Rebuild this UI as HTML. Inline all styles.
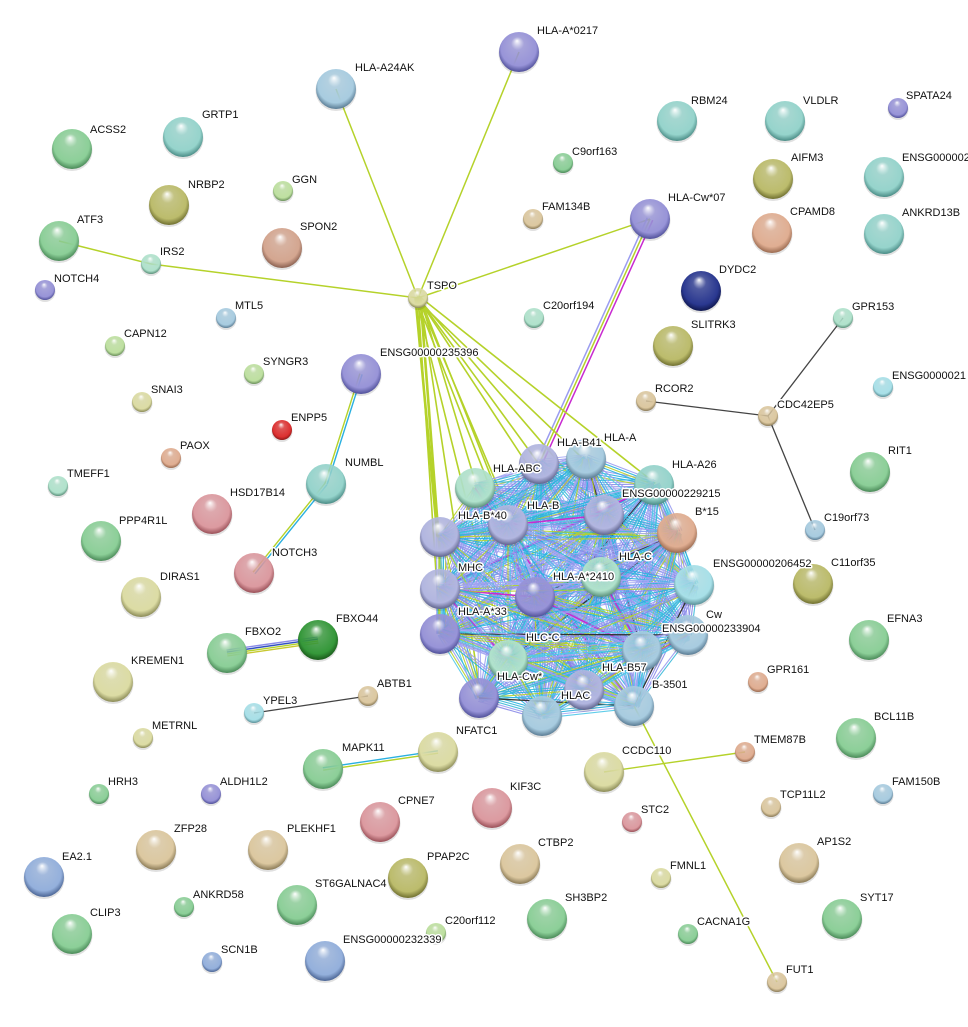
<!DOCTYPE html>
<html><head><meta charset="utf-8"><style>
html,body{margin:0;padding:0;background:#fff;width:968px;height:1027px;overflow:hidden}
svg{display:block}
text{font-family:"Liberation Sans",Arial,sans-serif;font-size:11px;fill:#111;stroke:#fff;stroke-width:3px;paint-order:stroke;stroke-linejoin:round}
</style></head><body>
<svg id="s" width="968" height="1027" viewBox="0 0 968 1027" xmlns="http://www.w3.org/2000/svg">
<defs id="d"></defs>
<g id="edges"></g>
<g id="nodes"></g>
<g id="labels">
<text x="537" y="34">HLA-A*0217</text>
<text x="355" y="71">HLA-A24AK</text>
<text x="90" y="133">ACSS2</text>
<text x="202" y="118">GRTP1</text>
<text x="188" y="188">NRBP2</text>
<text x="292" y="183">GGN</text>
<text x="300" y="230">SPON2</text>
<text x="77" y="223">ATF3</text>
<text x="160" y="255">IRS2</text>
<text x="54" y="282">NOTCH4</text>
<text x="235" y="309">MTL5</text>
<text x="124" y="337">CAPN12</text>
<text x="263" y="365">SYNGR3</text>
<text x="151" y="393">SNAI3</text>
<text x="291" y="421">ENPP5</text>
<text x="180" y="449">PAOX</text>
<text x="67" y="477">TMEFF1</text>
<text x="427" y="289">TSPO</text>
<text x="380" y="356">ENSG00000235396</text>
<text x="345" y="466">NUMBL</text>
<text x="230" y="496">HSD17B14</text>
<text x="119" y="524">PPP4R1L</text>
<text x="272" y="556">NOTCH3</text>
<text x="160" y="580">DIRAS1</text>
<text x="245" y="635">FBXO2</text>
<text x="336" y="622">FBXO44</text>
<text x="131" y="664">KREMEN1</text>
<text x="263" y="704">YPEL3</text>
<text x="377" y="687">ABTB1</text>
<text x="152" y="729">METRNL</text>
<text x="342" y="751">MAPK11</text>
<text x="456" y="734">NFATC1</text>
<text x="108" y="785">HRH3</text>
<text x="220" y="785">ALDH1L2</text>
<text x="398" y="804">CPNE7</text>
<text x="510" y="790">KIF3C</text>
<text x="174" y="832">ZFP28</text>
<text x="287" y="832">PLEKHF1</text>
<text x="427" y="860">PPAP2C</text>
<text x="538" y="846">CTBP2</text>
<text x="62" y="860">EA2.1</text>
<text x="193" y="898">ANKRD58</text>
<text x="315" y="887">ST6GALNAC4</text>
<text x="445" y="924">C20orf112</text>
<text x="565" y="901">SH3BP2</text>
<text x="90" y="916">CLIP3</text>
<text x="221" y="953">SCN1B</text>
<text x="343" y="943">ENSG00000232339</text>
<text x="572" y="155">C9orf163</text>
<text x="542" y="210">FAM134B</text>
<text x="668" y="201">HLA-Cw*07</text>
<text x="543" y="309">C20orf194</text>
<text x="691" y="104">RBM24</text>
<text x="803" y="104">VLDLR</text>
<text x="906" y="99">SPATA24</text>
<text x="791" y="161">AIFM3</text>
<text x="902" y="161">ENSG000002</text>
<text x="790" y="215">CPAMD8</text>
<text x="902" y="216">ANKRD13B</text>
<text x="719" y="273">DYDC2</text>
<text x="691" y="328">SLITRK3</text>
<text x="852" y="310">GPR153</text>
<text x="892" y="379">ENSG0000021</text>
<text x="655" y="392">RCOR2</text>
<text x="777" y="408">CDC42EP5</text>
<text x="888" y="454">RIT1</text>
<text x="824" y="521">C19orf73</text>
<text x="831" y="566">C11orf35</text>
<text x="887" y="622">EFNA3</text>
<text x="767" y="673">GPR161</text>
<text x="874" y="720">BCL11B</text>
<text x="754" y="743">TMEM87B</text>
<text x="622" y="754">CCDC110</text>
<text x="780" y="798">TCP11L2</text>
<text x="892" y="785">FAM150B</text>
<text x="641" y="813">STC2</text>
<text x="817" y="845">AP1S2</text>
<text x="670" y="869">FMNL1</text>
<text x="860" y="901">SYT17</text>
<text x="697" y="925">CACNA1G</text>
<text x="786" y="973">FUT1</text>
<text x="493" y="472">HLA-ABC</text>
<text x="557" y="446">HLA-B41</text>
<text x="604" y="441">HLA-A</text>
<text x="672" y="468">HLA-A26</text>
<text x="622" y="497">ENSG00000229215</text>
<text x="695" y="515">B*15</text>
<text x="458" y="519">HLA-B*40</text>
<text x="527" y="509">HLA-B</text>
<text x="619" y="560">HLA-C</text>
<text x="553" y="580">HLA-A*2410</text>
<text x="458" y="571">MHC</text>
<text x="713" y="567">ENSG00000206452</text>
<text x="458" y="615">HLA-A*33</text>
<text x="706" y="618">Cw</text>
<text x="662" y="632">ENSG00000233904</text>
<text x="526" y="641">HLC-C</text>
<text x="497" y="680">HLA-Cw*</text>
<text x="602" y="671">HLA-B57</text>
<text x="561" y="699">HLAC</text>
<text x="652" y="688">B-3501</text>
</g>
</svg>
<script>
var C={green:"#8ccf98",teal:"#96d4cc",purple:"#9894d8",lblue:"#a8cce0",salmon:"#e0ae92",tan:"#dcc8a0",khaki:"#dcdca4",rose:"#dc9aa0",olive:"#bcbc6c",navy:"#2a3890",dgreen:"#35983a",red:"#dd3030",lgreen:"#bee0a0",cyan:"#a8e0e8",blue:"#94b0dc",brown:"#d4a690",lav:"#b2b6e0",mint:"#b0e2cc"};
var D={green:"#4a8a58",teal:"#4a8c86",purple:"#50509a",lblue:"#5a7c94",salmon:"#9a6a50",tan:"#8a7a56",khaki:"#8a8a56",rose:"#9a5058",olive:"#707030",navy:"#101850",dgreen:"#1a5a1a",red:"#901818",lgreen:"#6a905a",cyan:"#5a9098",blue:"#4a6494",brown:"#8a6050",lav:"#60648e",mint:"#5a907a"};
var d=document.getElementById("d"),h="";
for(var k in C){h+='<radialGradient id="g'+k+'" cx="50%" cy="45%" r="55%" fx="45%" fy="22%"><stop offset="0" stop-color="#fff"/><stop offset="0.3" stop-color="'+C[k]+'" stop-opacity="0.8"/><stop offset="0.8" stop-color="'+C[k]+'"/><stop offset="1" stop-color="'+D[k]+'"/></radialGradient>';}
d.innerHTML=h;
var N={
"A0217":[519,52,20,"purple"],"A24AK":[336,89,20,"lblue"],"ACSS2":[72,149,20,"green"],"GRTP1":[183,137,20,"teal"],"NRBP2":[169,205,20,"olive"],
"RBM24":[677,121,20,"teal"],"VLDLR":[785,121,20,"teal"],"AIFM3":[773,179,20,"olive"],"ENSG2":[884,177,20,"teal"],"ATF3":[59,241,20,"green"],
"SPON2":[282,248,20,"brown"],"Cw07":[650,219,20,"purple"],"CPAMD8":[772,233,20,"salmon"],"ANKRD13B":[884,234,20,"teal"],"DYDC2":[701,291,20,"navy"],
"SLITRK3":[673,346,20,"olive"],"E235396":[361,374,20,"purple"],"NUMBL":[326,484,20,"teal"],"HSD17B14":[212,514,20,"rose"],"PPP4R1L":[101,541,20,"green"],
"NOTCH3":[254,573,20,"rose"],"DIRAS1":[141,597,20,"khaki"],"FBXO2":[227,653,20,"green"],"FBXO44":[318,640,20,"dgreen"],"KREMEN1":[113,682,20,"khaki"],
"RIT1":[870,472,20,"green"],"C11orf35":[813,584,20,"olive"],"EFNA3":[869,640,20,"green"],"BCL11B":[856,738,20,"green"],"CCDC110":[604,772,20,"khaki"],
"NFATC1":[438,752,20,"khaki"],"MAPK11":[323,769,20,"green"],"CPNE7":[380,822,20,"rose"],"KIF3C":[492,808,20,"rose"],"ZFP28":[156,850,20,"tan"],
"PLEKHF1":[268,850,20,"tan"],"PPAP2C":[408,878,20,"olive"],"CTBP2":[520,864,20,"tan"],"AP1S2":[799,863,20,"tan"],"EA21":[44,877,20,"blue"],
"ST6":[297,905,20,"green"],"SH3BP2":[547,919,20,"green"],"SYT17":[842,919,20,"green"],"CLIP3":[72,934,20,"green"],"E232339":[325,961,20,"blue"],
"TSPO":[418,298,10,"khaki"],"IRS2":[151,264,10,"mint"],"NOTCH4":[45,290,10,"purple"],"GGN":[283,191,10,"lgreen"],"C9orf163":[563,163,10,"green"],
"FAM134B":[533,219,10,"tan"],"SPATA24":[898,108,10,"purple"],"MTL5":[226,318,10,"lblue"],"CAPN12":[115,346,10,"lgreen"],"C20orf194":[534,318,10,"mint"],
"SYNGR3":[254,374,10,"lgreen"],"GPR153":[843,318,10,"mint"],"SNAI3":[142,402,10,"khaki"],"E21":[883,387,10,"cyan"],"RCOR2":[646,401,10,"tan"],
"CDC42EP5":[768,416,10,"tan"],"ENPP5":[282,430,10,"red"],"PAOX":[171,458,10,"salmon"],"TMEFF1":[58,486,10,"mint"],"C19orf73":[815,530,10,"lblue"],
"GPR161":[758,682,10,"salmon"],"YPEL3":[254,713,10,"cyan"],"ABTB1":[368,696,10,"tan"],"METRNL":[143,738,10,"khaki"],"TMEM87B":[745,752,10,"salmon"],
"HRH3":[99,794,10,"green"],"ALDH1L2":[211,794,10,"purple"],"STC2":[632,822,10,"rose"],"TCP11L2":[771,807,10,"tan"],"FAM150B":[883,794,10,"lblue"],
"FMNL1":[661,878,10,"khaki"],"ANKRD58":[184,907,10,"green"],"C20orf112":[436,933,10,"lgreen"],"CACNA1G":[688,934,10,"green"],"SCN1B":[212,962,10,"blue"],
"FUT1":[777,982,10,"tan"]};
var CL=[[475,488,"mint"],[539,464,"lav"],[586,459,"lblue"],[654,485,"teal"],[604,515,"lav"],[677,533,"salmon"],[440,537,"lav"],[508,525,"lav"],
[601,577,"mint"],[535,597,"purple"],[440,589,"lav"],[694,585,"cyan"],[440,634,"purple"],[688,635,"lblue"],[642,651,"lblue"],[508,660,"mint"],
[479,698,"purple"],[584,690,"lav"],[542,716,"lblue"],[634,706,"lblue"]];
CL.forEach(function(c,i){N["cl"+i]=[c[0],c[1],20,c[2]];});
var E=document.getElementById("edges"),eh="";
function ln(a,b,col,w,o,op){var dx=b[0]-a[0],dy=b[1]-a[1],L=Math.sqrt(dx*dx+dy*dy)||1,px=-dy/L*o,py=dx/L*o;
eh+='<line x1="'+(a[0]+px)+'" y1="'+(a[1]+py)+'" x2="'+(b[0]+px)+'" y2="'+(b[1]+py)+'" stroke="'+col+'" stroke-width="'+w+'" stroke-opacity="'+(op||1)+'"/>';}
var YG="#b5d22a";
ln(N.TSPO,N.A24AK,YG,1.5,0);ln(N.TSPO,N.A0217,YG,1.5,0);ln(N.TSPO,N.IRS2,YG,1.5,0);ln(N.IRS2,N.ATF3,YG,1.5,0);ln(N.TSPO,N.Cw07,YG,1.5,0);
ln(N.Cw07,N.cl1,"#c82ad0",1.5,-3);ln(N.Cw07,N.cl1,YG,1.5,0);ln(N.Cw07,N.cl1,"#9a9cf0",1.5,3);
[0,1,2,3,4,6,7,8,9,10,12,15,16,17].forEach(function(i,j){ln(N.TSPO,N["cl"+i],YG,1.6,(j%3)*2-2);});
ln(N.TSPO,N.cl6,YG,1.6,3);ln(N.TSPO,N.cl10,YG,1.6,-3);
ln(N.CDC42EP5,N.GPR153,"#444",1.3,0);ln(N.CDC42EP5,N.RCOR2,"#444",1.3,0);ln(N.CDC42EP5,N.C19orf73,"#444",1.3,0);
ln(N.E235396,N.NUMBL,"#2ab0e0",1.4,-1.2);ln(N.E235396,N.NUMBL,YG,1.4,1.2);
ln(N.NUMBL,N.NOTCH3,"#2ab0e0",1.4,-1.2);ln(N.NUMBL,N.NOTCH3,YG,1.4,1.2);
ln(N.FBXO2,N.FBXO44,"#8a8ae8",1.4,-3);ln(N.FBXO2,N.FBXO44,"#3050c0",1.4,-1);ln(N.FBXO2,N.FBXO44,YG,1.4,1);ln(N.FBXO2,N.FBXO44,"#c8c830",1.4,3);
ln(N.YPEL3,N.ABTB1,"#444",1.3,0);
ln(N.MAPK11,N.NFATC1,"#2ab0e0",1.4,-1.2);ln(N.MAPK11,N.NFATC1,YG,1.4,1.2);
ln(N.CCDC110,N.TMEM87B,YG,1.4,0);ln(N.cl19,N.FUT1,YG,1.5,0);
var seed=7;function r(){seed=(seed*16807)%2147483647;return seed/2147483647;}
var pal=["#9a9cf0","#2ab0e0","#9a9cf0","#4fc8e8","#b5d22a","#8a8ae8","#38b8d8","#a6a8f4"];
for(var i=0;i<20;i++)for(var j=i+1;j<20;j++){var a=N["cl"+i],b=N["cl"+j];
var n=2+Math.floor(r()*4);for(var k=0;k<n;k++){ln(a,b,pal[Math.floor(r()*pal.length)],1.1,(k-n/2)*2.2,0.9);}
if(r()<0.05)ln(a,b,"#c82ad0",1.5,0);if(r()<0.03)ln(a,b,"#333",1.3,0);}
E.innerHTML=eh;
var G=document.getElementById("nodes"),nh="";
for(var k in N){var n=N[k];nh+='<circle cx="'+n[0]+'" cy="'+(n[1]+1.5)+'" r="'+(n[2]+0.5)+'" fill="#000" fill-opacity="0.12"/><circle cx="'+n[0]+'" cy="'+n[1]+'" r="'+n[2]+'" fill="url(#g'+n[3]+')"/>';}
G.innerHTML=nh;
</script>
</body></html>
